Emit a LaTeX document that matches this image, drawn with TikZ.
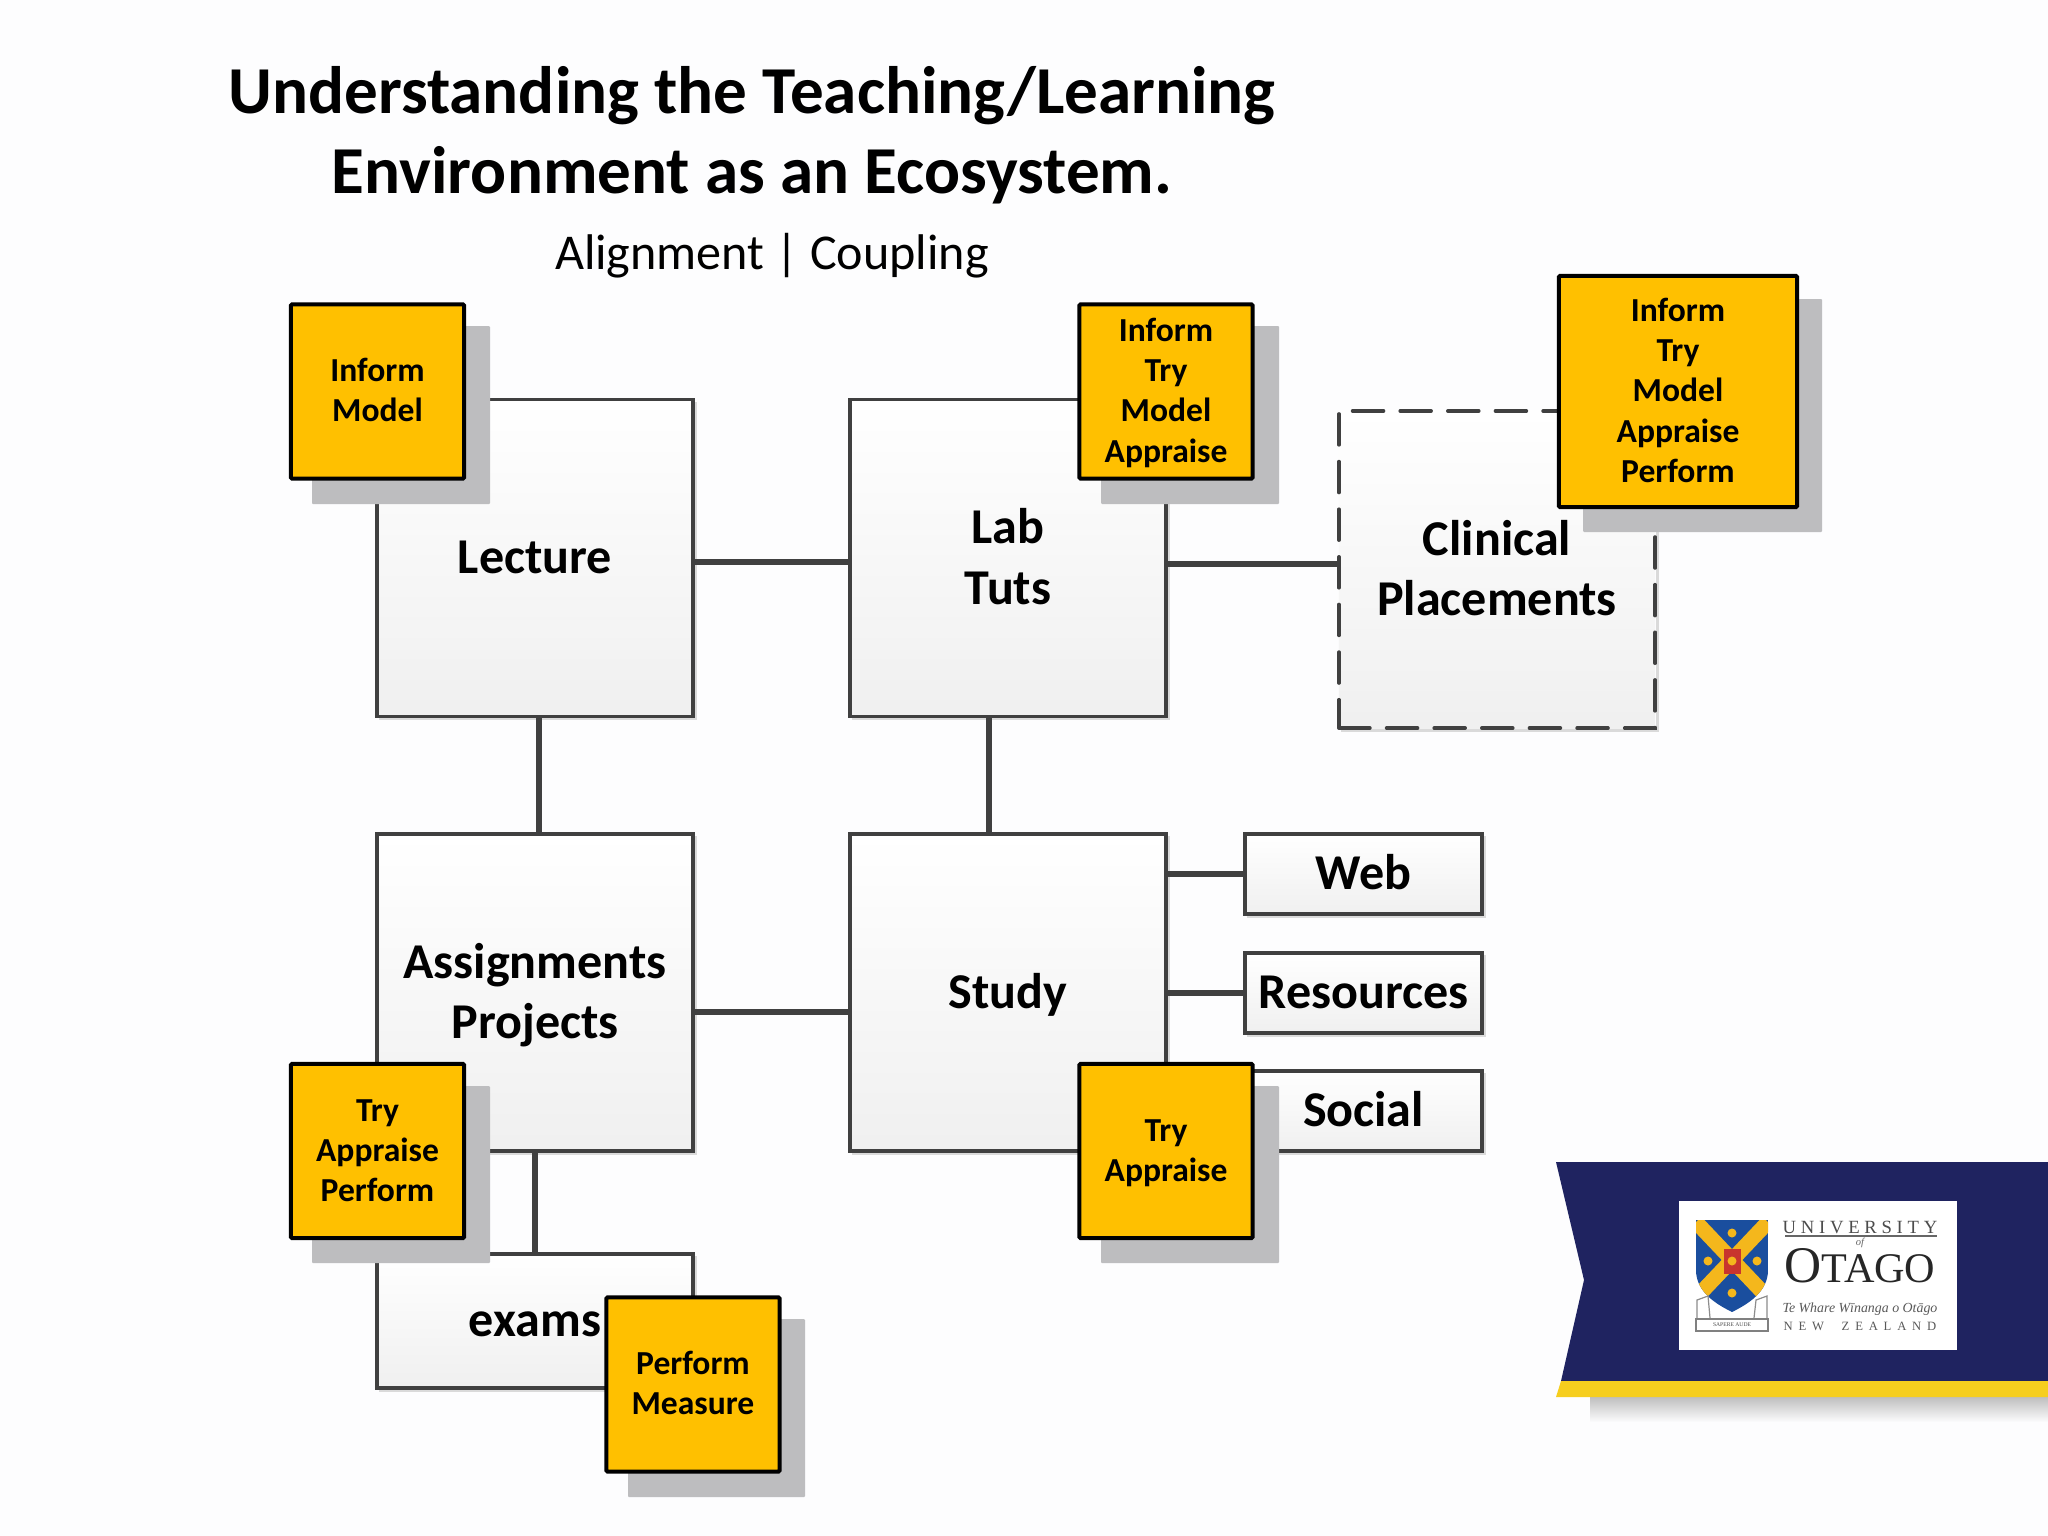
\documentclass[tikz,border=0pt]{standalone}
\usepackage{fontspec}
\setmainfont{Carlito}
\newfontfamily\logoserif{Liberation Serif}
\usetikzlibrary{calc,shadings,fadings}
\definecolor{bgc}{HTML}{FDFDFE}
\definecolor{linec}{HTML}{404040}
\definecolor{amber}{HTML}{FFC000}
\definecolor{shadowc}{HTML}{BDBDBF}
\definecolor{navy}{HTML}{1F2360}
\definecolor{stripe}{HTML}{F6CE1E}
\definecolor{shieldblue}{HTML}{1A4E9E}
\definecolor{shieldgold}{HTML}{F4B71C}
\definecolor{shieldred}{HTML}{C8352E}
\definecolor{softedge}{HTML}{DADADA}
\newcommand{\fsz}[2]{\fontsize{#1pt}{#2pt}\selectfont}
\newcommand{\tp}[1]{\vrule height #1 depth 0pt width 0pt\relax}
\newcommand{\bigup}{\tp{14.3pt}}
\newcommand{\tagup}{\tp{9.35pt}}
\def\strutextra{0pt}
\tikzset{
  every node/.style={outer sep=0pt,inner sep=0pt},
  strutextra/.store in=\strutextra,
  strutted/.style={execute at begin node={\leavevmode\vrule height\dimexpr.7\baselineskip+\strutextra\relax depth 0pt width 0pt\relax},execute at end node=\strut},
  stagebox/.style={draw=linec,line width=0.035cm,top color=white,bottom color=black!6,
     align=center,font=\bfseries\fsz{14.25}{17.2},text=black,strutted,strutextra=2.2pt},
  bigbox/.style={stagebox,minimum width=3.16cm,minimum height=3.165cm},
  smallbox/.style={stagebox,minimum width=2.37cm,minimum height=0.8cm},
  dashbox/.style={stagebox,dash pattern=on 0.31cm off 0.166cm,line cap=round},
  tagbox/.style={draw=black,line width=0.04cm,fill=amber,align=center,rounded corners=0.01cm,
     font=\bfseries\fsz{9.55}{11.4},text=black,strutted,minimum width=1.73cm,minimum height=1.74cm},
  link/.style={draw=linec,line width=0.06cm},
  tagshadow/.style={fill=shadowc,rounded corners=0.01cm},
  edge/.style={draw=softedge,line width=0.03cm}
}
\begin{document}
\begin{tikzpicture}[x=0.01cm,y=-0.01cm]
\useasboundingbox (0,0) rectangle (2048,1536);
\fill[bgc] (0,0) rectangle (2048,1536);

% title
\node[align=center,font=\bfseries\fsz{19.08}{22.9}] (title) at (752,135)
  {Understanding the Teaching/Learning\\Environment as an Ecosystem.};
\node[font=\fsz{14.25}{17}] (subtitle) at (772,256) {Alignment | Coupling};

% soft edges of the boxes
\draw[edge] (695,402) -- (695,718) -- (379,718);
\draw[edge] (1168,402) -- (1168,718) -- (852,718);
\draw[edge] (1657,413) -- (1657,730) -- (1341,730);
\draw[edge] (695,836) -- (695,1153) -- (379,1153);
\draw[edge] (1168,836) -- (1168,1153) -- (852,1153);
\draw[edge] (695,1256) -- (695,1390) -- (379,1390);
\draw[edge] (1484,836) -- (1484,916) -- (1247,916);
\draw[edge] (1484,955) -- (1484,1035) -- (1247,1035);
\draw[edge] (1484,1073) -- (1484,1153) -- (1247,1153);

% stage boxes
\node[bigbox] (lecture) at (535,558) {Lecture};
\node[bigbox] (lab) at (1008,558) {\bigup Lab\\Tuts};
\node[dashbox,minimum width=3.16cm,minimum height=3.17cm] (clinical) at (1497,569.5) {\bigup Clinical\\Placements};
\node[bigbox] (assign) at (535,992.5) {\bigup Assignments\\Projects};
\node[bigbox] (study) at (1008,992.5) {Study};
\node[smallbox] (web) at (1363.5,874) {Web};
\node[smallbox] (resources) at (1363.5,993) {Resources};
\node[smallbox] (social) at (1363.5,1111) {Social};
\node[stagebox,minimum width=3.16cm,minimum height=1.34cm] (exams) at (535,1321) {exams};

% connectors
\draw[link] ([yshift=-0.04cm]lecture.east) -- ([yshift=-0.04cm]lab.west);
\draw[link] ([yshift=-0.06cm]lab.east) -- ([yshift=-0.06cm]lab.east -| clinical.west);
\draw[link] ([xshift=0.04cm]lecture.south) -- ([xshift=0.04cm]assign.north);
\draw[link] ([xshift=-0.19cm]lab.south) -- ([xshift=-0.19cm]study.north);
\draw[link] ([yshift=-0.195cm]assign.east) -- ([yshift=-0.195cm]study.west);
\draw[link] (study.east |- web.west) -- (web.west);
\draw[link] (study.east |- resources.west) -- (resources.west);
\draw[link] (study.east |- social.west) -- (social.west);
\draw[link] (assign.south) -- (exams.north);

% tag shadows
\path[tagshadow] (312,326) rectangle (490,504);
\path[tagshadow] (1101,326) rectangle (1279,504);
\path[tagshadow] (1583,299) rectangle (1822,532);
\path[tagshadow] (312,1086) rectangle (490,1263);
\path[tagshadow] (1101,1086) rectangle (1279,1263);
\path[tagshadow] (628,1319) rectangle (805,1497);

% tags
\node[tagbox] (tagA) at (377.5,391.5) {\tagup Inform\\Model};
\node[tagbox] (tagB) at (1166,391.5) {\tagup Inform\\Try\\Model\\Appraise};
\node[tagbox,minimum width=2.38cm,minimum height=2.31cm] (tagC) at (1678,391.5) {\tagup Inform\\Try\\Model\\Appraise\\Perform};
\node[tagbox] (tagD) at (377.5,1151) {\tagup Try\\Appraise\\Perform};
\node[tagbox] (tagE) at (1166,1151) {\tagup Try\\Appraise};
\node[tagbox] (tagF) at (693,1384.5) {\tagup Perform\\Measure};

% banner
\fill[black!25,path fading=south] (1590,1397) rectangle (2048,1422);
\fill[navy] (1556,1162) -- (2048,1162) -- (2048,1381) -- (1561,1381) -- (1584,1280) -- cycle;
\fill[stripe] (1556,1397) -- (1561,1381) -- (2048,1381) -- (2048,1397) -- cycle;
\fill[white] (1679,1201) rectangle (1957,1350);

% crest
\begin{scope}
\clip (1696,1220) -- (1768,1220) -- (1768,1270) .. controls (1768,1292) and (1748,1304) .. (1732,1312) .. controls (1716,1304) and (1696,1292) .. (1696,1270) -- cycle;
\fill[shieldblue] (1696,1220) rectangle (1768,1312);
\draw[shieldgold,line width=0.15cm] (1696,1222) -- (1770,1300);
\draw[shieldgold,line width=0.15cm] (1768,1222) -- (1694,1300);
\end{scope}
\fill[shieldred] (1724,1249) rectangle (1741,1274);
\fill[shieldgold] (1732,1261) circle (4.5);
\foreach \px/\py in {1732/1233,1708/1261,1757/1261,1732/1293}
  \fill[shieldgold] (\px,\py) circle (4.5);
\draw[black!45,line width=0.012cm] (1697,1318) -- (1697,1300) -- (1708,1296) -- (1710,1318);
\draw[black!45,line width=0.012cm] (1767,1318) -- (1767,1296) -- (1756,1300) -- (1754,1318);
\draw[black!50,line width=0.012cm] (1696,1319) rectangle (1768,1331);
\node[font=\logoserif\fsz{1.6}{2},text=black!70] (motto) at (1732,1325) {SAPERE AUDE};

% wordmark
\node[font=\logoserif\fsz{5.3}{6},text=black!70] (uni) at (1860,1227) {U\kern1.35pt N\kern1.35pt I\kern1.35pt V\kern1.35pt E\kern1.35pt R\kern1.35pt S\kern1.35pt I\kern1.35pt T\kern1.35pt Y};
\draw[black!60,line width=0.012cm] (1785,1236) -- (1937,1236);
\node[font=\logoserif\itshape\fsz{3}{3.5},text=black!60] (of) at (1860,1243) {of};
\node[font=\logoserif\fsz{14.6}{15},text=black!85] (otago) at (1860,1266) {O\fsz{12}{15}TAGO};
\node[font=\logoserif\itshape\fsz{3.95}{4},text=black!65] (maori) at (1860,1309) {Te Whare W\=\i nanga o Ot\=ago};
\node[font=\logoserif\fsz{3.6}{4},text=black!65] (nz) at (1860,1326) {N\kern1.65pt E\kern1.65pt W\kern5pt Z\kern1.65pt E\kern1.65pt A\kern1.65pt L\kern1.65pt A\kern1.65pt N\kern1.65pt D};
\end{tikzpicture}
\end{document}
